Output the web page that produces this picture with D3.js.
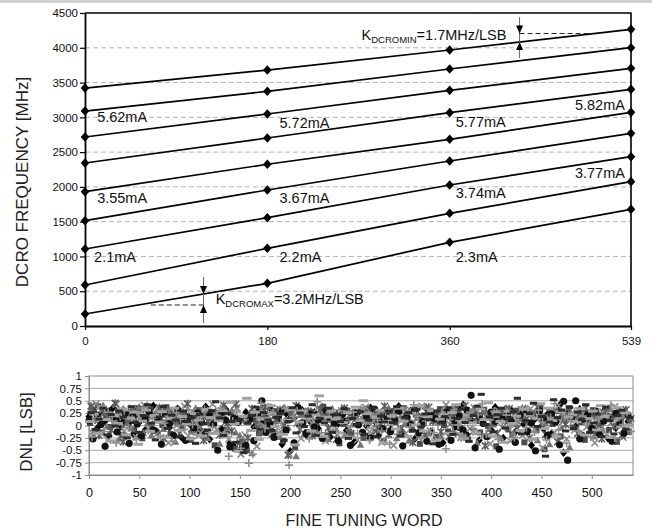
<!DOCTYPE html>
<html>
<head>
<meta charset="utf-8">
<script src="https://cdn.jsdelivr.net/npm/d3@7"></script>
<style>
  body { margin: 0; background: #fff; }
  svg { display: block; font-family: "Liberation Sans", Arial, sans-serif; }
</style>
</head>
<body>
<svg id="chart" width="652" height="529"></svg>
<script>
// ---- top chart: DCRO frequency vs fine tuning word ----
const tuneCodes = [0, 180, 360, 539];
const f1 = [3420, 3680, 3968, 4265];
const f2 = [3090, 3374, 3695, 4001];
const f3 = [2717, 3048, 3388, 3704];
const f4 = [2343, 2703, 3067, 3402];
const f5 = [1931, 2325, 2684, 3072];
const f6 = [1514, 1955, 2372, 2770];
const f7 = [1107, 1557, 2027, 2434];
const f8 = [589, 1117, 1620, 2075];
const f9 = [172, 614, 1203, 1677];
const freqTicks = [0, 500, 1000, 1500, 2000, 2500, 3000, 3500, 4000, 4500];

const curLabels = ["5.62mA", "5.72mA", "5.77mA", "5.82mA", "3.55mA", "3.67mA", "3.74mA", "3.77mA", "2.1mA", "2.2mA", "2.3mA"];
const curLabelCode = [12, 192, 366, 533, 12, 192, 366, 533, 9, 192, 366];
const curLabelMHz = [2937, 2842, 2868, 3105, 1768, 1768, 1840, 2128, 920, 920, 920];
const curLabelAnchor = ["start", "start", "start", "end", "start", "start", "start", "end", "start", "start", "start"];

// ---- bottom chart: DNL, one series per current setting ----
const dnlTicks = [-1, -0.75, -0.5, -0.25, 0, 0.25, 0.5, 0.75, 1];
const dnlTickText = ["-1", "-0.75", "-0.5", "-0.25", "0", "0.25", "0.5", "0.75", "1"];
const codeTicks = [0, 50, 100, 150, 200, 250, 300, 350, 400, 450, 500];

const dnl1 = [.18,.32,-.06,.25,.09,-.21,.36,.14,-.02,.28,.05,-.17,.31,.11,-.09,
  .22,.40,-.13,.07,.29,-.04,.19,.34,-.24,.12,.03,.26,-.11,.16,.38,
  -.28,.09,.23,-.07,.33,-.36,-.41,.13,-.45,.27,.18,-.03,.30,.06,.21,
  .35,-.15,.10,-.38,.24,-.52,.15,.02,.31,-.19,.08,.27,-.06,.37,.13,
  -.23,.20,.04,.32,-.10,.17,-.33,.26,.11,-.01,.36,.09,-.20,.29,.14,
  -.08,.24,.39,-.14,.06,.30,-.27,.18,.01,.33,-.12,.21,.08,-.35,.25,
  .15,-.04,.34,.42,-.18,.12,.27,-.30,.05,.22,-.09,.37,.16,-.25,.10,
  .31,-.13,.19,.03,.28,-.40,.14,.35,-.07,.23,-.16,.09,.41,-.55,.26,
  .18,-.02,.33,-.21,.11,.27,-.11,.06,.30,-.26,.15,-.05,.22,-.18,.08];
const dnl2 = [.05,.27,.39,-.14,.20,-.03,.12,.30,-.19,.07,.24,-.08,.35,-.26,.16,
  .33,-.10,.22,.01,.37,-.17,.14,.28,-.05,.19,-.29,.09,.31,-.12,.26,
  .04,-.40,.17,.34,-.09,.25,-.47,.08,-.33,-.50,.21,.13,-.16,.36,.02,
  -.07,.29,.18,-.31,.10,.23,-.44,.32,.06,-.13,.27,-.02,.15,.38,-.20,
  .11,.26,-.36,.03,.30,-.15,.20,.08,-.25,.34,.12,-.06,.24,-.32,.17,
  .29,.07,-.18,.35,.13,-.09,.22,-.37,.05,.28,.16,-.23,.33,.01,-.12,
  .20,.37,-.05,.15,-.28,.26,.09,-.14,.32,-.01,.19,-.42,.11,.24,-.08,
  -.19,.30,.14,-.34,.06,.25,-.10,.36,-.48,.17,.03,.29,-.22,.12,.35,
  -.04,.21,.07,-.29,.16,.31,-.15,.02,.24,-.09,.18,-.33,.10,.27,-.13];
const dnl3 = [.30,-.11,.16,.41,-.02,.23,.08,-.27,.34,.13,-.06,.20,.38,-.15,.04,
  -.20,.25,.10,-.07,.32,.17,-.33,.06,.27,.15,-.12,.35,-.01,.22,-.25,
  .12,.29,-.37,.19,-.05,.31,-.14,-.20,-.30,.07,-.56,.24,.03,.18,-.09,
  .26,.09,-.23,.37,-.04,.14,-.62,.21,-.17,.30,.05,-.10,.25,.11,-.28,
  .34,-.08,.16,-.20,.27,.02,.13,-.39,.23,.07,-.18,.29,.14,-.03,.36,
  .10,-.26,.19,.04,-.31,.28,.15,-.06,.38,-.16,.09,.26,-.22,.18,.32,
  -.11,.06,.23,-.20,.17,.33,-.35,.12,.28,-.07,.02,.21,-.26,.35,.13,
  -.15,.08,.27,.36,-.09,.16,-.30,.22,.04,-.38,.31,.11,-.05,.19,-.44,
  .24,.13,-.17,.28,.05,-.22,.19,-.07,.14,.33,-.28,.09,.20,-.12,.04];
const dnl4 = [-.14,.44,.08,.26,-.30,.15,.43,.03,-.11,.20,.35,-.24,.12,.41,-.06,
  .17,-.18,.31,.09,-.35,.24,.00,.14,.39,-.21,.27,.05,-.15,.30,.11,
  .43,-.08,.22,.06,-.27,.16,.36,-.58,-.19,.12,.25,-.42,.32,-.02,.19,
  .07,.21,-.12,.33,-.57,.18,.04,-.26,.28,.10,-.09,.35,.16,-.31,.23,
  .01,-.19,.30,.12,-.05,.24,-.29,.15,.37,-.13,.08,.22,-.34,.19,.05,
  -.40,.27,.11,-.16,.32,.06,-.24,.39,.14,-.10,.23,-.29,.17,.42,.02,
  .28,-.17,.09,.26,-.06,.36,.15,-.23,.20,-.37,.13,.30,-.04,.18,-.31,
  .06,.24,-.20,.13,.34,-.08,.21,-.45,.17,.29,-.14,.40,.07,-.27,.15,
  -.09,.30,.16,-.03,.22,-.35,.12,.28,-.19,.05,.38,.11,-.24,.19,.14];
const dnl5 = [.39,.11,-.20,.31,.17,-.09,.45,.22,-.33,.06,.28,.14,-.18,.33,.24,
  -.03,.19,.36,-.26,.13,.30,.08,-.16,.21,.44,-.07,.17,.27,-.30,.09,
  .26,.14,-.19,.41,.05,-.11,.43,-.35,.10,-.25,.34,.02,-.13,.22,.37,
  -.17,.12,.32,.00,-.60,.25,.40,-.08,.16,.29,-.21,.07,.33,.19,-.05,
  .23,-.28,.09,.35,-.14,.18,.06,.31,-.22,.14,.27,-.10,.04,.39,-.18,
  .15,.33,-.07,.21,.03,-.34,.26,.11,-.19,.37,.08,.20,-.13,.29,-.23,
  .07,.25,-.24,.40,.11,-.12,.30,.19,-.41,.24,.06,-.16,.28,.09,.34,
  .21,-.06,.32,.12,-.25,.20,.37,.05,-.18,.27,.13,-.33,.24,.02,.30,
  .12,-.16,.25,.35,-.08,.18,.03,-.27,.29,.15,-.02,.23,-.20,.32,.06];
const dnl6 = [.10,-.27,.21,.02,-.42,.29,.16,-.13,.08,.24,-.36,.19,.03,-.21,.13,
  .28,-.09,.15,-.38,.23,.04,-.20,.32,.10,-.30,.18,-.04,.25,.07,-.17,
  .20,.03,-.50,.27,.11,-.43,.15,.07,-.48,-.40,.14,-.31,.22,.50,-.14,
  .03,-.24,.19,.28,-.10,.12,-.35,.36,.05,-.16,.23,-.03,.11,-.26,.30,
  .17,.04,-.31,.22,.09,-.40,.26,.01,-.14,.20,-.25,.33,.12,-.07,.19,
  -.12,.13,.29,-.41,.17,.02,.31,-.15,.08,-.32,.24,.14,-.38,.11,.27,
  -.30,.10,.19,-.09,.31,.61,-.45,.18,.04,-.22,.27,.08,-.48,.16,.20,
  .09,-.34,.18,.26,-.12,.05,-.51,.30,.14,-.20,.23,.07,-.39,.49,-.70,
  .16,.50,-.27,.13,.22,-.06,.29,-.18,.09,.17,-.32,.25,.04,-.15,.21];
const dnl7 = [-.23,.16,.34,-.12,.27,.09,-.35,.18,.30,-.04,.13,-.28,.22,.36,-.10,
  .14,.29,-.22,.05,.19,-.32,.26,.12,-.08,.31,.02,-.19,.17,.33,-.14,
  -.03,.21,.35,-.16,-.62,.09,.28,-.46,.12,-.76,-.58,.17,.45,-.06,.15,
  .25,-.13,.06,.34,-.80,.18,.30,-.04,.23,-.27,.13,.48,-.15,.08,.26,
  -.09,.17,.31,-.22,.12,.27,-.16,.35,.05,-.30,.20,.10,-.11,.28,-.38,
  .22,-.18,.14,.30,-.03,.42,.19,-.25,.09,.34,-.14,.03,.27,-.47,.12,
  .33,.01,-.21,.16,.27,-.10,.22,.44,-.17,.11,.29,-.28,.06,.21,-.03,
  -.24,.12,.35,-.04,.20,-.13,.31,.07,-.29,.16,.44,-.09,.26,-.36,.10,
  .27,-.11,.19,.04,-.23,.30,.13,-.07,.21,.41,-.25,.16,.02,.24,-.12];
const dnl8 = [.08,.23,-.16,.37,.12,-.31,.20,.04,.33,-.19,.15,.27,-.38,.09,.31,
  -.12,.20,.07,.28,-.24,.14,.35,-.10,.18,.03,-.27,.24,.11,-.21,.32,
  .16,-.16,.10,.30,-.23,.47,.04,-.52,.19,.55,-.10,.27,-.28,.13,.25,
  .40,-.02,.23,-.18,.11,.32,-.39,.07,.29,.15,-.11,.21,.60,-.22,.17,
  .30,.13,-.15,.06,.26,-.24,.37,.10,.50,.24,-.05,.16,.31,-.35,.08,
  .19,-.07,.35,.09,-.22,.25,.01,.40,-.11,.18,.30,-.30,.13,.22,-.16,
  .26,.42,.11,-.27,.21,.05,-.15,.33,.12,.46,-.21,.25,.08,-.34,.29,
  .04,.19,-.10,.33,.22,-.28,.15,.44,-.06,.35,.10,-.22,.28,-.52,.17,
  .23,.08,.34,-.19,.14,.29,-.09,.40,.18,-.24,.11,.36,-.03,.26,.01];
const dnl9 = [.26,-.08,.13,.35,-.19,.22,-.01,.29,.17,-.25,.38,.06,-.14,.20,.42,
  .05,-.29,.17,.38,-.06,.21,.11,-.23,.29,.08,.16,-.36,.23,.04,-.09,
  .30,.48,.15,-.20,.24,.08,-.34,.12,-.55,.05,.20,.37,-.07,.26,.11,
  -.10,.16,.24,-.30,.08,.36,-.15,.25,-.02,.19,.42,-.20,.14,.05,.35,
  -.14,.22,.08,.34,-.26,.14,.02,.28,-.18,.11,.35,-.23,.19,.07,.29,
  .06,.38,-.21,.16,.26,-.10,.33,-.03,.23,.12,-.37,.29,.05,.18,.36,
  -.18,.14,.33,.06,-.32,.20,.39,.63,.02,.17,-.13,.22,.35,-.05,.15,
  .28,.55,-.17,.10,.24,.45,-.02,.18,-.62,.07,.52,.16,.31,-.11,.37,
  -.06,.27,.12,.42,-.14,.05,.23,-.22,.37,.10,-.17,.20,.31,-.07,.16];

const dnlStep = 4;
const dnlOffset = [0, 1, 2, 3, 2, 0, 3, 1, 2];

const svg = d3.select("#chart");

// thin grey strip along the top edge
svg.append("rect").attr("x", 0).attr("y", 0).attr("width", 652).attr("height", 3).attr("fill", "#d2d2d2");

// ================= top chart =================
const xTop = d3.scaleLinear().domain([0, 539]).range([85, 631]);
const yTop = d3.scaleLinear().domain([0, 4500]).range([326, 13]);

const topG = svg.append("g");

topG.selectAll("line.grid")
    .data(freqTicks.filter(d => d > 0 && d < 4500))
    .join("line")
    .attr("class", "grid")
    .attr("x1", xTop(0)).attr("x2", xTop(539))
    .attr("y1", d => yTop(d)).attr("y2", d => yTop(d))
    .attr("stroke", "#b4b4b4")
    .attr("stroke-dasharray", "5,3");

// frame: top and right
topG.append("path")
    .attr("d", `M${xTop(0)},${yTop(4500)}H${xTop(539)}V${yTop(0)}`)
    .attr("fill", "none").attr("stroke", "#000").attr("stroke-width", 1.6);

const yAxisTop = topG.append("g")
    .attr("transform", `translate(${xTop(0)},0)`)
    .call(d3.axisLeft(yTop).tickValues(freqTicks).tickSize(5).tickPadding(2).tickSizeOuter(0).tickFormat(d3.format("d")));
const xAxisTop = topG.append("g")
    .attr("transform", `translate(0,${yTop(0)})`)
    .call(d3.axisBottom(xTop).tickValues(tuneCodes).tickSize(4).tickPadding(7).tickSizeOuter(0).tickFormat(d3.format("d")));
[yAxisTop, xAxisTop].forEach(a => {
    a.select(".domain").attr("stroke", "#000").attr("stroke-width", 1.8);
    a.selectAll(".tick line").attr("stroke", "#000").attr("stroke-width", 1.2);
    a.selectAll(".tick text").attr("font-size", 11.5).attr("font-family", "Liberation Sans, Arial, sans-serif").attr("fill", "#111");
});

const curves = [f1, f2, f3, f4, f5, f6, f7, f8, f9];
const line = d3.line().x((d, i) => xTop(tuneCodes[i])).y(d => yTop(d));

topG.selectAll("path.curve")
    .data(curves)
    .join("path")
    .attr("class", "curve")
    .attr("d", d => line(d))
    .attr("fill", "none")
    .attr("stroke", "#000")
    .attr("stroke-width", 1.7);

const bigDiamond = "M0,-4.8L4.3,0L0,4.8L-4.3,0Z";
curves.forEach(c => {
    topG.append("g").selectAll("path")
        .data(c)
        .join("path")
        .attr("d", bigDiamond)
        .attr("transform", (d, i) => `translate(${xTop(tuneCodes[i])},${yTop(d)})`)
        .attr("fill", "#000");
});

topG.selectAll("text.cur")
    .data(curLabels)
    .join("text")
    .attr("class", "cur")
    .attr("x", (d, i) => xTop(curLabelCode[i]))
    .attr("y", (d, i) => yTop(curLabelMHz[i]))
    .attr("text-anchor", (d, i) => curLabelAnchor[i])
    .attr("font-size", 14.5)
    .attr("fill", "#111")
    .text(d => d);

// K annotations
function arrowDown(g, x, y) {
    g.append("path").attr("d", `M${x},${y}l-3.5,-8h7z`).attr("fill", "#000");
}
function arrowUp(g, x, y) {
    g.append("path").attr("d", `M${x},${y}l-3.5,8h7z`).attr("fill", "#000");
}
function kLabel(g, x, y, sub, rest) {
    const t = g.append("text").attr("x", x).attr("y", y).attr("font-size", 14.5).attr("fill", "#111");
    t.append("tspan").text("K");
    t.append("tspan").attr("font-size", 9.5).attr("dy", 3).text(sub);
    t.append("tspan").attr("dy", -3).text(rest);
}

// K_DCROMAX near the lowest curve
const kMaxCode = 117;
topG.append("line")
    .attr("x1", xTop(kMaxCode)).attr("x2", xTop(kMaxCode))
    .attr("y1", yTop(704)).attr("y2", yTop(43))
    .attr("stroke", "#666");
topG.append("line")
    .attr("x1", xTop(65)).attr("x2", xTop(kMaxCode))
    .attr("y1", yTop(302)).attr("y2", yTop(302))
    .attr("stroke", "#222").attr("stroke-dasharray", "5,3");
arrowDown(topG, xTop(kMaxCode), yTop(f9[0] + (f9[1] - f9[0]) * kMaxCode / 180));
arrowUp(topG, xTop(kMaxCode), yTop(302));
kLabel(topG, xTop(129), yTop(316), "DCROMAX", "=3.2MHz/LSB");

// K_DCROMIN near the top curve
const kMinCode = 429;
topG.append("line")
    .attr("x1", xTop(kMinCode)).attr("x2", xTop(kMinCode))
    .attr("y1", yTop(4442)).attr("y2", yTop(3853))
    .attr("stroke", "#666");
topG.append("line")
    .attr("x1", xTop(kMinCode)).attr("x2", xTop(500))
    .attr("y1", yTop(4205)).attr("y2", yTop(4205))
    .attr("stroke", "#222").attr("stroke-dasharray", "5,3");
arrowDown(topG, xTop(kMinCode), yTop(4205));
arrowUp(topG, xTop(kMinCode), yTop(f1[2] + (f1[3] - f1[2]) * (kMinCode - 360) / 179));
kLabel(topG, xTop(273), yTop(4111), "DCROMIN", "=1.7MHz/LSB");

topG.append("text")
    .attr("transform", `translate(28,182) rotate(-90)`)
    .attr("text-anchor", "middle")
    .attr("font-size", 17)
    .attr("fill", "#222")
    .text("DCRO FREQUENCY [MHz]");

// ================= bottom chart =================
const xBot = d3.scaleLinear().domain([0, 541]).range([89, 633]);
const yBot = d3.scaleLinear().domain([-1, 1]).range([475, 376]);

const botG = svg.append("g");

botG.selectAll("line.grid")
    .data(dnlTicks.filter(d => d > -1 && d < 1))
    .join("line")
    .attr("class", "grid")
    .attr("x1", xBot(0)).attr("x2", xBot(541))
    .attr("y1", d => yBot(d)).attr("y2", d => yBot(d))
    .attr("stroke", "#a8a8a8");

botG.append("rect")
    .attr("x", xBot(0)).attr("y", yBot(1))
    .attr("width", xBot(541) - xBot(0)).attr("height", yBot(-1) - yBot(1))
    .attr("fill", "none").attr("stroke", "#8c8c8c");

const yAxisBot = botG.append("g")
    .attr("transform", `translate(${xBot(0)},0)`)
    .call(d3.axisLeft(yBot).tickValues(dnlTicks).tickSize(4).tickPadding(3).tickSizeOuter(0)
        .tickFormat((d, i) => dnlTickText[i]));
const xAxisBot = botG.append("g")
    .attr("transform", `translate(0,${yBot(-1)})`)
    .call(d3.axisBottom(xBot).tickValues(codeTicks).tickSize(4).tickPadding(9).tickSizeOuter(0));
[yAxisBot, xAxisBot].forEach(a => {
    a.select(".domain").attr("stroke", "#8c8c8c");
    a.selectAll(".tick line").attr("stroke", "#8c8c8c");
    a.selectAll(".tick text").attr("font-family", "Liberation Sans, Arial, sans-serif").attr("fill", "#111");
});
yAxisBot.selectAll(".tick text").attr("font-size", 11.5);
xAxisBot.selectAll(".tick text").attr("font-size", 12.5);

// DNL markers (Excel-like marker cycle in greys)
const markerShapes = [
    { d: "M0,-4.2L3.6,0L0,4.2L-3.6,0Z", fill: true },
    { d: "M-3,-3h6v6h-6z", fill: true },
    { d: "M0,-3.8L3.8,3H-3.8Z", fill: true },
    { d: "M-3.4,-3.4L3.4,3.4M-3.4,3.4L3.4,-3.4", fill: false },
    { d: "M-3.4,-3.4L3.4,3.4M-3.4,3.4L3.4,-3.4M0,-4V4", fill: false },
    { d: "M-3.6,0a3.6,3.6 0 1,0 7.2,0a3.6,3.6 0 1,0 -7.2,0", fill: true },
    { d: "M-4,0H4M0,-4V4", fill: false },
    { d: "M-4.8,-1.5h9.6v3h-9.6z", fill: true },
    { d: "M-3.6,-1.5h7.2v3h-7.2z", fill: true }
];
const markerColors = ["#000", "#4a4a4a", "#767676", "#8a8a8a", "#5c5c5c", "#111", "#8e8e8e", "#a2a2a2", "#2c2c2c"];
const dnlSeries = [dnl1, dnl2, dnl3, dnl4, dnl5, dnl6, dnl7, dnl8, dnl9];

dnlSeries.forEach((s, k) => {
    const m = markerShapes[k];
    botG.append("g")
        .selectAll("path")
        .data(s)
        .join("path")
        .attr("d", m.d)
        .attr("transform", (d, i) => `translate(${xBot(i * dnlStep + dnlOffset[k])},${yBot(d)})`)
        .attr("fill", m.fill ? markerColors[k] : "none")
        .attr("stroke", m.fill ? "none" : markerColors[k])
        .attr("stroke-width", 1.6);
});

botG.append("text")
    .attr("transform", `translate(32,432) rotate(-90)`)
    .attr("text-anchor", "middle")
    .attr("font-size", 17)
    .attr("fill", "#222")
    .text("DNL [LSB]");

svg.append("text")
    .attr("x", 364).attr("y", 526)
    .attr("text-anchor", "middle")
    .attr("font-size", 16)
    .attr("fill", "#222")
    .text("FINE TUNING WORD");
</script>
</body>
</html>
